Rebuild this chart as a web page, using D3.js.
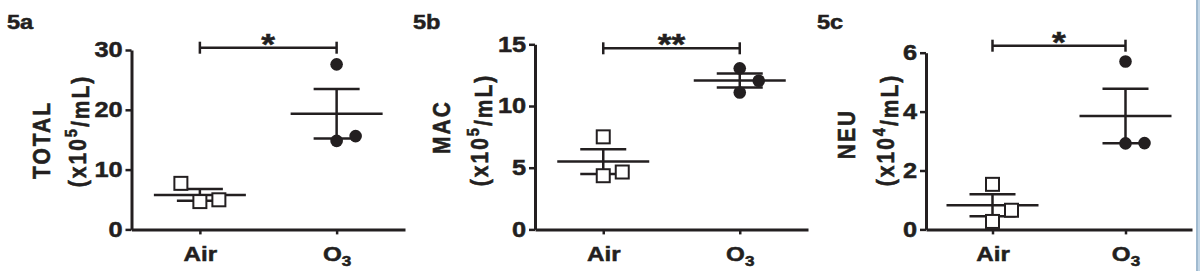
<!DOCTYPE html>
<html>
<head>
<meta charset="utf-8">
<script src="https://cdn.jsdelivr.net/npm/d3@7"></script>
<style>
  html, body { margin: 0; padding: 0; background: #fff; }
  svg { display: block; font-family: "Liberation Sans", Arial, sans-serif; font-weight: bold; }
  svg text { stroke: #231f20; stroke-width: 0.5px; }
</style>
</head>
<body>
<div id="container"></div>
<script>
const W = 1200;
const H = 271;
const INK = "#231f20";
const SX = 1.18; // the figure is stretched a little horizontally

// groups on the x axis
const groups = ["Air", "O3"];

// 5a TOTAL (x10^5/mL)
const totalAir = [7.7, 4.65, 4.95];
const totalO3 = [27.6, 14.8, 15.6];
const totalTicks = [0, 10, 20, 30];

// 5b MAC (x10^5/mL)
const macAir = [7.5, 4.35, 4.65];
const macO3 = [13.05, 11.1, 12.05];
const macTicks = [0, 5, 10, 15];

// 5c NEU (x10^4/mL)
const neuAir = [1.53, 0.27, 0.65];
const neuO3 = [5.7, 2.92, 2.93];
const neuTicks = [0, 2, 4, 6];

const panelLabels = ["5a", "5b", "5c"];
const yTitles = ["TOTAL", "MAC", "NEU"];
const yExponents = ["5", "5", "4"];
const stars = ["*", "**", "*"];

// layout of each panel (pixels)
const layout = [
  { label: 7, axisX: 131.5, top: 50, right: 405, bar: 47.7, t1: 50, t1y: 140, t2: 85.5, t2y: 131 },
  { label: 413, axisX: 535, top: 44.3, right: 808, bar: 48.3, t1: 450, t1y: 127, t2: 488, t2y: 130 },
  { label: 817, axisX: 926, top: 52.7, right: 1192, bar: 45.7, t1: 855, t1y: 134, t2: 894, t2y: 130 }
];
const BOTTOM = 229.4;

const panels = [
  { air: totalAir, o3: totalO3, ticks: totalTicks },
  { air: macAir, o3: macO3, ticks: macTicks },
  { air: neuAir, o3: neuO3, ticks: neuTicks }
];

const svg = d3
  .select("#container")
  .append("svg")
  .attr("width", W)
  .attr("height", H);

// scaled text helper
function label(g, x, y, str, size, anchor) {
  return g
    .append("text")
    .attr("transform", `translate(${x},${y}) scale(${SX},1)`)
    .attr("text-anchor", anchor || "start")
    .attr("fill", INK)
    .style("font-size", size + "px")
    .text(str);
}

// place points in side columns when they would overlap (like Prism's scatter)
function spread(values, y) {
  const slots = [0, 1, -1, 2, -2];
  const placed = [];
  const order = values.map((v, i) => i).sort((a, b) => values[a] - values[b]);
  const out = new Array(values.length);
  order.forEach(i => {
    const py = y(values[i]);
    const s = slots.find(s => !placed.some(p => p.slot === s && Math.abs(p.y - py) < 20));
    placed.push({ slot: s, y: py });
    out[i] = s;
  });
  return out;
}

panels.forEach((p, k) => {
  const L = layout[k];
  const g = svg.append("g");

  label(g, L.label, 28.5, panelLabels[k], 20);

  const y = d3
    .scaleLinear()
    .domain([0, d3.max(p.ticks)])
    .range([BOTTOM, L.top]);

  const x = d3
    .scalePoint()
    .domain(groups)
    .range([L.axisX, L.right])
    .padding(0.5);

  // y axis
  const yAxis = g
    .append("g")
    .attr("transform", `translate(${L.axisX},0)`)
    .call(
      d3.axisLeft(y)
        .tickValues(p.ticks)
        .tickFormat(d3.format("d"))
        .tickSize(6)
        .tickPadding(1.5)
        .tickSizeOuter(0)
    );
  yAxis.select(".domain").attr("stroke", INK).attr("stroke-width", 3);
  yAxis.selectAll(".tick line").attr("stroke", INK).attr("stroke-width", 2.5);
  yAxis
    .selectAll(".tick text")
    .attr("fill", INK)
    .attr("transform", `scale(${SX},1)`)
    .style("font-size", "21.5px")
    .style("font-family", "'Liberation Sans', Arial, sans-serif")
    .style("font-weight", "bold");

  // x axis
  const xAxis = g
    .append("g")
    .attr("transform", `translate(0,${BOTTOM})`)
    .call(d3.axisBottom(x).tickSize(5).tickPadding(12.5).tickSizeOuter(0));
  xAxis.select(".domain").attr("stroke", INK).attr("stroke-width", 3);
  xAxis.selectAll(".tick line").attr("stroke", INK).attr("stroke-width", 2.5);
  xAxis
    .selectAll(".tick text")
    .attr("fill", INK)
    .attr("transform", `scale(${SX},1)`)
    .style("font-size", "20.5px")
    .style("font-family", "'Liberation Sans', Arial, sans-serif")
    .style("font-weight", "bold")
    .each(function(d) {
      if (d === "O3") {
        const t = d3.select(this).text("");
        t.append("tspan").text("O");
        t.append("tspan").attr("dy", "0.32em").style("font-size", "14.5px").text("3");
      }
    });

  // y titles
  g.append("text")
    .attr("transform", `translate(${L.t1},${L.t1y}) scale(${SX},1) rotate(-90)`)
    .attr("text-anchor", "middle")
    .attr("fill", INK)
    .style("font-size", "21px")
    .style("letter-spacing", "2px")
    .text(yTitles[k]);
  const t2 = g
    .append("text")
    .attr("transform", `translate(${L.t2},${L.t2y}) scale(${SX},1) rotate(-90)`)
    .attr("text-anchor", "middle")
    .attr("fill", INK)
    .style("font-size", "21px")
    .style("letter-spacing", "2px");
  t2.append("tspan").text("(x10");
  t2.append("tspan").attr("dy", "-0.5em").style("font-size", "14.5px").text(yExponents[k]);
  t2.append("tspan").attr("dy", "0.5em").text("/mL)");

  // significance bar
  const x0 = x("Air");
  const x1 = x("O3");
  const barY = L.bar;
  const sig = g.append("g").attr("stroke", INK).attr("stroke-width", 2.5);
  sig.append("line").attr("x1", x0).attr("x2", x1).attr("y1", barY).attr("y2", barY);
  sig.append("line").attr("x1", x0).attr("x2", x0).attr("y1", barY - 6).attr("y2", barY + 6);
  sig.append("line").attr("x1", x1).attr("x2", x1).attr("y1", barY - 6).attr("y2", barY + 6);
  label(g, (x0 + x1) / 2, barY + 6, stars[k], 30, "middle");

  // mean +/- SEM and points
  [["Air", p.air], ["O3", p.o3]].forEach(([grp, vals]) => {
    const cx = x(grp);
    const m = d3.mean(vals);
    const sem = d3.deviation(vals) / Math.sqrt(vals.length);
    const eb = g.append("g").attr("stroke", INK).attr("stroke-width", 2.5);
    eb.append("line").attr("x1", cx - 46).attr("x2", cx + 46).attr("y1", y(m)).attr("y2", y(m));
    eb.append("line").attr("x1", cx - 23).attr("x2", cx + 23).attr("y1", y(m + sem)).attr("y2", y(m + sem));
    eb.append("line").attr("x1", cx - 23).attr("x2", cx + 23).attr("y1", y(m - sem)).attr("y2", y(m - sem));
    eb.append("line").attr("x1", cx).attr("x2", cx).attr("y1", y(m + sem)).attr("y2", y(m - sem));

    const slots = spread(vals, y);
    if (grp === "Air") {
      g.selectAll(null)
        .data(vals)
        .enter()
        .append("rect")
        .attr("x", (d, i) => cx + slots[i] * 19 - 6.5)
        .attr("y", d => y(d) - 6.5)
        .attr("width", 13)
        .attr("height", 13)
        .attr("fill", "#fff")
        .attr("stroke", INK)
        .attr("stroke-width", 2);
    } else {
      g.selectAll(null)
        .data(vals)
        .enter()
        .append("circle")
        .attr("cx", (d, i) => cx + slots[i] * 19)
        .attr("cy", d => y(d))
        .attr("r", 6.3)
        .attr("fill", INK);
    }
  });
});

// thin frame line at the right edge of the figure
svg.append("rect").attr("x", 1196).attr("y", 0).attr("width", 4).attr("height", H).attr("fill", "#c3d6e6");
svg.append("line").attr("x1", 1197).attr("x2", 1197).attr("y1", 0).attr("y2", H).attr("stroke", "#7f9fba").attr("stroke-width", 1);
</script>
</body>
</html>
